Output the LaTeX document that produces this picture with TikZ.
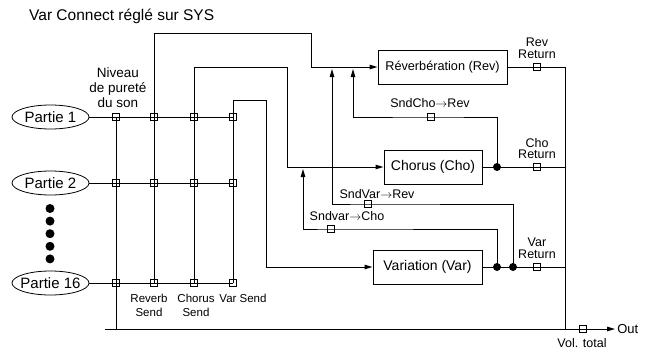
\documentclass[tikz,border=0pt]{standalone}
\usepackage{fontspec}
\setmainfont{Liberation Sans}
\usetikzlibrary{arrows.meta}
\usetikzlibrary{shapes.geometric}
\tikzset{
  signalLine/.style={
    line width=1pt
  },
  signalArrow/.style={
    signalLine,
    -{Triangle[length=8pt,width=4.5pt]}
  },
  partieNode/.style={
    ellipse,
    draw,
    line width=0.8pt,
    minimum width=77pt,
    minimum height=24pt,
    inner xsep=-6pt,
    inner ysep=-4pt,
    font=\fontsize{15}{18}\selectfont
  },
  effectBox/.style={
    draw,
    line width=1pt,
    minimum height=34pt,
    inner sep=0pt,
    font=\fontsize{14}{17}\selectfont
  },
  levelSquare/.style={
    draw,
    line width=0.8pt,
    minimum size=7.5pt,
    inner sep=0pt
  },
  junctionDot/.style={
    circle,
    fill,
    minimum size=8pt,
    inner sep=0pt
  },
  smallLabel/.style={
    align=center,
    inner sep=0pt,
    font=\fontsize{12.5}{11.5}\selectfont
  },
  sendLabel/.style={
    align=center,
    inner sep=0pt,
    font=\fontsize{11.5}{14}\selectfont
  }
}

\begin{document}
\begin{tikzpicture}[x=1pt, y=-1pt]
\useasboundingbox (0,0) rectangle (653,351);
\def\busY{329}  % total volume line
\def\retX{565}  % return bus

\node[anchor=west, inner sep=0pt, font=\fontsize{15.5}{18}\selectfont] (title) at (29,16) {Var Connect réglé sur SYS};

% === Parts and send matrix ===
\foreach \j/\y in {1/117,2/183,16/283}{
  \node[partieNode] (p\j) at (50.5,\y) {Partie \j};
  \foreach \i/\x in {1/116,2/154,3/194,4/233}
    \node[levelSquare] (s\j-\i) at (\x,\y) {};
  \draw[signalLine] (p\j) -- (s\j-4.center);
}
\foreach \k in {0,...,4}
  \node[junctionDot, minimum size=9pt] (ell\k) at (50,208.5+12.6*\k) {};

\node[align=center, inner sep=0pt, font=\fontsize{13.5}{15}\selectfont] (niveauLabel) at (118,88) {Niveau\\de pureté\\du son};
\node[sendLabel] (revSendLabel) at (149,305) {Reverb\\Send};
\node[sendLabel] (choSendLabel) at (196,305) {Chorus\\Send};
\node[sendLabel] (varSendLabel) at (243,298) {Var Send};

% Effect blocks
\node[effectBox, minimum width=129pt, font=\fontsize{12.7}{15}\selectfont] (rev) at (442.5,67) {Réverbération (Rev)};
\node[effectBox, minimum width=98pt] (cho) at (433,167) {Chorus (Cho)};
\node[effectBox, minimum width=109pt] (var) at (427.5,267) {Variation (Var)};

% Corners of the send lines
\coordinate (busL) at (105,\busY);
\coordinate (topA) at (311,33);
\coordinate (topB) at (287,67);
\coordinate (topC) at (266,100);

% Send lines
\draw[signalLine] (s1-1.center) -- (s1-1.center |- busL);
\draw[signalArrow] (s16-2.center) |- (topA) |- (rev.west);
\draw[signalArrow] (s16-3.center) |- (topB) |- (cho.west);
\draw[signalArrow] (s16-4.center) |- (topC) |- (var.west);

% === Returns ===
\coordinate (retBus) at (\retX,67);
\node[levelSquare] (revRet) at (537,67) {};
\node[levelSquare] (choRet) at (537,167) {};
\node[levelSquare] (varRet) at (537,267) {};
\node[junctionDot] (choDot) at (497,167) {};
\node[junctionDot] (varDotA) at (497,267) {};
\node[junctionDot] (varDotB) at (513,267) {};
\draw[signalLine] (rev.east) -- (retBus) -- (retBus |- busL);
\draw[signalLine] (cho.east) -- (cho.east -| retBus);
\draw[signalLine] (var.east) -- (var.east -| retBus);
\node[smallLabel] (revRetLabel) at (537,48.5) {Rev\\Return};
\node[smallLabel] (choRetLabel) at (537,148.5) {Cho\\Return};
\node[smallLabel] (varRetLabel) at (537,248.5) {Var\\Return};

% Cross sends between effects
\coordinate (revTipA) at (332,69);
\coordinate (revTipB) at (353,69);
\coordinate (choTip) at (303,169);
\node[levelSquare] (choRevSq) at (431,117) {};
\node[levelSquare] (varRevSq) at (368,204) {};
\node[levelSquare] (varChoSq) at (331,229) {};
\draw[signalArrow] (choDot.center) |- (choRevSq.center) -| (revTipB);
\draw[signalArrow] (varDotB.center) |- (varRevSq.center) -| (revTipA);
\draw[signalArrow] (varDotA.center) |- (varChoSq.center) -| (choTip);
\node[smallLabel] (choRevLabel) at (430,103) {SndCho$\rightarrow$Rev};
\node[smallLabel] (varRevLabel) at (377,194) {SndVar$\rightarrow$Rev};
\node[smallLabel] (varChoLabel) at (347,216) {Sndvar$\rightarrow$Cho};

% === Output ===
\node[anchor=west, inner sep=0pt, font=\fontsize{13}{15}\selectfont] (out) at (615,\busY) {\,Out};
\node[levelSquare] (volSq) at (583,\busY) {};
\draw[signalArrow] (busL) -- (out.west);
\node[smallLabel] (volLabel) at (582,343) {Vol. total};

\end{tikzpicture}
\end{document}
